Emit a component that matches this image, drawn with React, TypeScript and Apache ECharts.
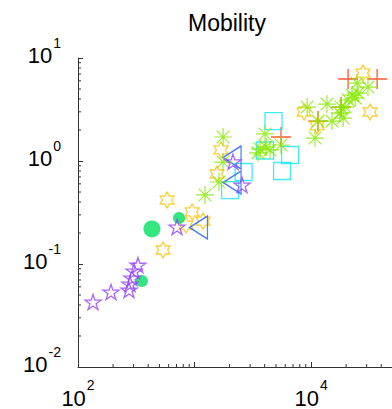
import React, { useEffect, useRef } from 'react';
import * as echarts from 'echarts';

// Axis ranges (log10 scales on both axes)
const X_MIN = 100;
const X_MAX = 49500;
const Y_MIN = 0.01;
const Y_MAX = 10;

// Decades that carry a "10^n" label
const xLabelExponents = [2, 4];
const yLabelExponents = [-2, -1, 0, 1];

// Purple pentagrams
const starX = [134.6, 192, 274, 279, 291, 303, 327, 708, 2138, 2558];
const starY = [0.0428, 0.0535, 0.056, 0.064, 0.0731, 0.0855, 0.0977, 0.2286, 0.984, 0.585];

// Green filled circles
const circleX = [431, 736, 354];
const circleY = [0.2188, 0.28, 0.0684];
const circleSizes = [17, 12, 12];

// Blue left-pointing triangles
const triX = [1081, 2099, 2099];
const triY = [0.226, 1.081, 0.618];

// Cyan squares
const squareX = [2018, 2636, 4763, 4027, 6607, 5636];
const squareY = [0.522, 0.782, 2.44, 1.265, 1.143, 0.8];

// Red plus signs
const plusX = [20800, 36900, 5520, 11480, 18100];
const plusY = [6.25, 6.25, 1.71, 2.44, 3.34];

// Amber hexagrams
const hexX = [581, 537, 953, 1184, 845, 1687, 1560, 27900, 32100, 8710, 11270];
const hexY = [0.418, 0.1368, 0.32, 0.261, 0.239, 1.28, 0.748, 7.14, 2.99, 2.99, 2.19];

// Lime asterisks
const astX = [1230, 1758, 1758, 1622, 4027, 4113, 3648, 4446, 5520, 3508, 9250, 13700, 11480, 10820,
  15140, 18840, 18100, 20800, 22500, 23900, 25300, 24800, 30800, 19600, 17700];
const astY = [0.468, 1.71, 0.977, 0.625, 1.83, 1.37, 1.31, 1.28, 1.43, 1.2, 3.34, 3.57, 2.44, 1.67,
  2.44, 2.61, 3.34, 3.91, 4.37, 4.1, 4.57, 5.71, 5.22, 3.34, 2.92];

const AXIS_COLOR = '#333333';
const FONT = '"Liberation Sans", Arial, Helvetica, sans-serif';

const STAR5 = 'path://M0,-100L22.45,-30.9L95.1,-30.9L36.3,11.8L58.8,80.9L0,38.2L-58.8,80.9L-36.3,11.8L-95.1,-30.9L-22.45,-30.9Z';
const STAR6 = 'path://M0,-100L28.87,-50L86.6,-50L57.7,0L86.6,50L28.87,50L0,100L-28.87,50L-86.6,50L-57.7,0L-86.6,-50L-28.87,-50Z';
const ASTERISK = 'path://M0,-100L0,100M-100,0L100,0M-70.7,-70.7L70.7,70.7M-70.7,70.7L70.7,-70.7';
const PLUS = 'path://M0,-100L0,100M-100,0L100,0';

const zip = (xs: number[], ys: number[]) => xs.map((x, i) => [x, ys[i]]);

// Minor tick positions at 2..9 × 10^n inside each axis range
const minorTicks = (lo: number, hi: number) => {
  const out: number[] = [];
  for (let e = Math.floor(Math.log10(lo)); e <= Math.ceil(Math.log10(hi)); e++) {
    for (let k = 2; k <= 9; k++) {
      const v = k * Math.pow(10, e);
      if (v > lo && v < hi) out.push(v);
    }
  }
  return out;
};

const powerLabel = (allowed: number[]) => (v: number) => {
  const l = Math.log10(v);
  const e = Math.round(l);
  if (Math.abs(l - e) > 1e-6 || allowed.indexOf(e) < 0) return '';
  return `{b|10}{s|${e}}`;
};

const richPow = {
  b: { fontSize: 22, lineHeight: 22, fontFamily: FONT, color: '#000', verticalAlign: 'bottom' },
  s: { fontSize: 14, lineHeight: 14, fontFamily: FONT, color: '#000', verticalAlign: 'bottom', padding: [0, 0, 17, 1] },
};

const hollow = (color: string, width = 1.3) => ({ color: 'transparent', borderColor: color, borderWidth: width });

const option: any = {
  animation: false,
  backgroundColor: '#ffffff',
  title: {
    text: 'Mobility',
    left: 222,
    textAlign: 'center',
    top: 6,
    textStyle: { fontSize: 23, fontWeight: 'normal', fontFamily: FONT, color: '#000' },
  },
  grid: { left: 78, right: 0, top: 58, bottom: 42, outerBoundsMode: 'none' },
  xAxis: {
    type: 'log',
    logBase: 10,
    min: X_MIN,
    max: X_MAX,
    axisLine: { lineStyle: { color: AXIS_COLOR, width: 1 } },
    axisTick: { inside: true, length: 5, lineStyle: { color: AXIS_COLOR } },
    splitLine: { show: false },
    axisLabel: {
      margin: 20,
      formatter: powerLabel(xLabelExponents),
      rich: richPow,
      showMaxLabel: false,
    },
  },
  yAxis: {
    type: 'log',
    logBase: 10,
    min: Y_MIN,
    max: Y_MAX,
    axisLine: { lineStyle: { color: AXIS_COLOR, width: 1 } },
    axisTick: { inside: true, length: 5, lineStyle: { color: AXIS_COLOR } },
    splitLine: { show: false },
    axisLabel: {
      margin: 17,
      formatter: powerLabel(yLabelExponents),
      rich: richPow,
      padding: [0, 0, 5, 0],
    },
  },
  series: [
    {
      type: 'custom',
      silent: true,
      clip: false,
      data: minorTicks(Y_MIN, Y_MAX).map((v) => [X_MIN, v]),
      encode: { x: 0, y: 1 },
      renderItem: (_p: any, api: any) => {
        const pt = api.coord([X_MIN, api.value(1)]);
        return {
          type: 'line',
          shape: { x1: pt[0], y1: pt[1], x2: pt[0] + 3, y2: pt[1] },
          style: { stroke: AXIS_COLOR, lineWidth: 1 },
        };
      },
    },
    {
      type: 'custom',
      silent: true,
      clip: false,
      data: minorTicks(X_MIN, X_MAX).map((v) => [v, Y_MIN]),
      encode: { x: 0, y: 1 },
      renderItem: (_p: any, api: any) => {
        const pt = api.coord([api.value(0), Y_MIN]);
        return {
          type: 'line',
          shape: { x1: pt[0], y1: pt[1], x2: pt[0], y2: pt[1] - 3 },
          style: { stroke: AXIS_COLOR, lineWidth: 1 },
        };
      },
    },
    {
      type: 'scatter',
      data: zip(plusX, plusY),
      symbol: PLUS,
      symbolSize: 20,
      itemStyle: hollow('#ff3000', 1.3),
    },
    {
      type: 'scatter',
      data: zip(squareX, squareY),
      symbol: 'rect',
      symbolSize: 17,
      itemStyle: hollow('#10e6f2', 1.3),
    },
    {
      type: 'scatter',
      data: zip(hexX, hexY),
      symbol: STAR6,
      symbolSize: 16,
      symbolKeepAspect: true,
      itemStyle: hollow('#ffbf00', 1.3),
    },
    {
      type: 'scatter',
      data: zip(triX, triY),
      symbol: 'triangle',
      symbolRotate: 90,
      symbolSize: [23, 18],
      itemStyle: hollow('#1f5fff', 1.4),
    },
    {
      type: 'scatter',
      data: zip(astX, astY),
      symbol: ASTERISK,
      symbolSize: 18,
      itemStyle: hollow('#84e800', 1.2),
    },
    {
      type: 'scatter',
      data: zip(circleX, circleY),
      symbol: 'circle',
      symbolSize: (_v: any, p: any) => circleSizes[p.dataIndex],
      itemStyle: { color: '#00e060' },
    },
    {
      type: 'scatter',
      data: zip(starX, starY),
      symbol: STAR5,
      symbolSize: 16,
      symbolKeepAspect: true,
      itemStyle: hollow('#9440ff', 1.3),
    },
  ],
};

export default function App() {
  const ref = useRef<HTMLDivElement>(null);
  useEffect(() => {
    if (!ref.current) return;
    const chart = echarts.init(ref.current, null, { renderer: 'svg' });
    chart.setOption(option);
    return () => chart.dispose();
  }, []);
  return (
    <div
      ref={ref}
      style={{ position: 'fixed', left: 0, top: 0, width: 392, height: 409, background: '#fff' }}
    />
  );
}
